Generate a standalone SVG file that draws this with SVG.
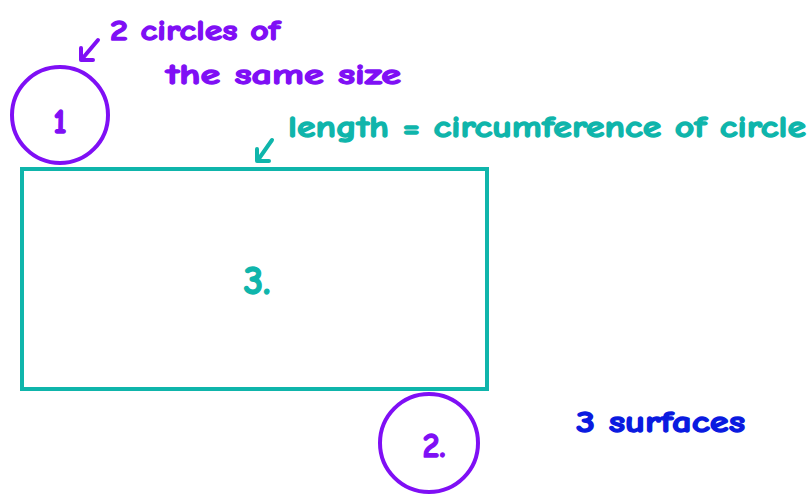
<svg xmlns="http://www.w3.org/2000/svg" width="810" height="495" viewBox="0 0 810 495">
<style>
text{font-family:"Comic Neue","Lato","Noto Sans",sans-serif;font-weight:700;stroke-width:1.3;stroke-linejoin:round}
.p{fill:#7f0ff5;stroke:#7f0ff5}.t{fill:#0fb5ab;stroke:#0fb5ab}.b{fill:#0a1ae0;stroke:#0a1ae0}
.pc{fill:none;stroke:#7f0ff5;stroke-width:4}
.tr{fill:none;stroke:#0fb5ab;stroke-width:4}
.arr{fill:none;stroke-width:4;stroke-linecap:round;stroke-linejoin:round}
</style>
<rect width="810" height="495" fill="#fff"/>
<g id="circle1"><circle class="pc" cx="60" cy="115" r="48"/><text class="p" x="60" y="133" font-size="34" text-anchor="middle">1</text></g>
<g id="rect3"><rect class="tr" x="22" y="169" width="465" height="220"/><text class="t" x="257" y="294" font-size="40" text-anchor="middle">3.</text></g>
<g id="circle2"><circle class="pc" cx="429" cy="443" r="49"/><text class="p" x="434" y="457" font-size="34" text-anchor="middle">2.</text></g>
<g id="labels">
<text class="p" x="110" y="40" font-size="29" textLength="170" lengthAdjust="spacingAndGlyphs">2 circles of</text>
<text class="p" x="166" y="84" font-size="29" textLength="235" lengthAdjust="spacingAndGlyphs">the same size</text>
<text class="t" x="288" y="137" font-size="31" textLength="518" lengthAdjust="spacingAndGlyphs">length = circumference of circle</text>
<text class="b" x="576" y="432" font-size="31" textLength="169" lengthAdjust="spacingAndGlyphs">3 surfaces</text>
</g>
<g id="connectors">
<path class="arr" stroke="#7f0ff5" d="M98 40 L82 59 M81 48 L81 60 L93 60"/>
<path class="arr" stroke="#0fb5ab" d="M272 140 L258 160 M257 149 L257 161 L269 161"/>
</g>
</svg>
